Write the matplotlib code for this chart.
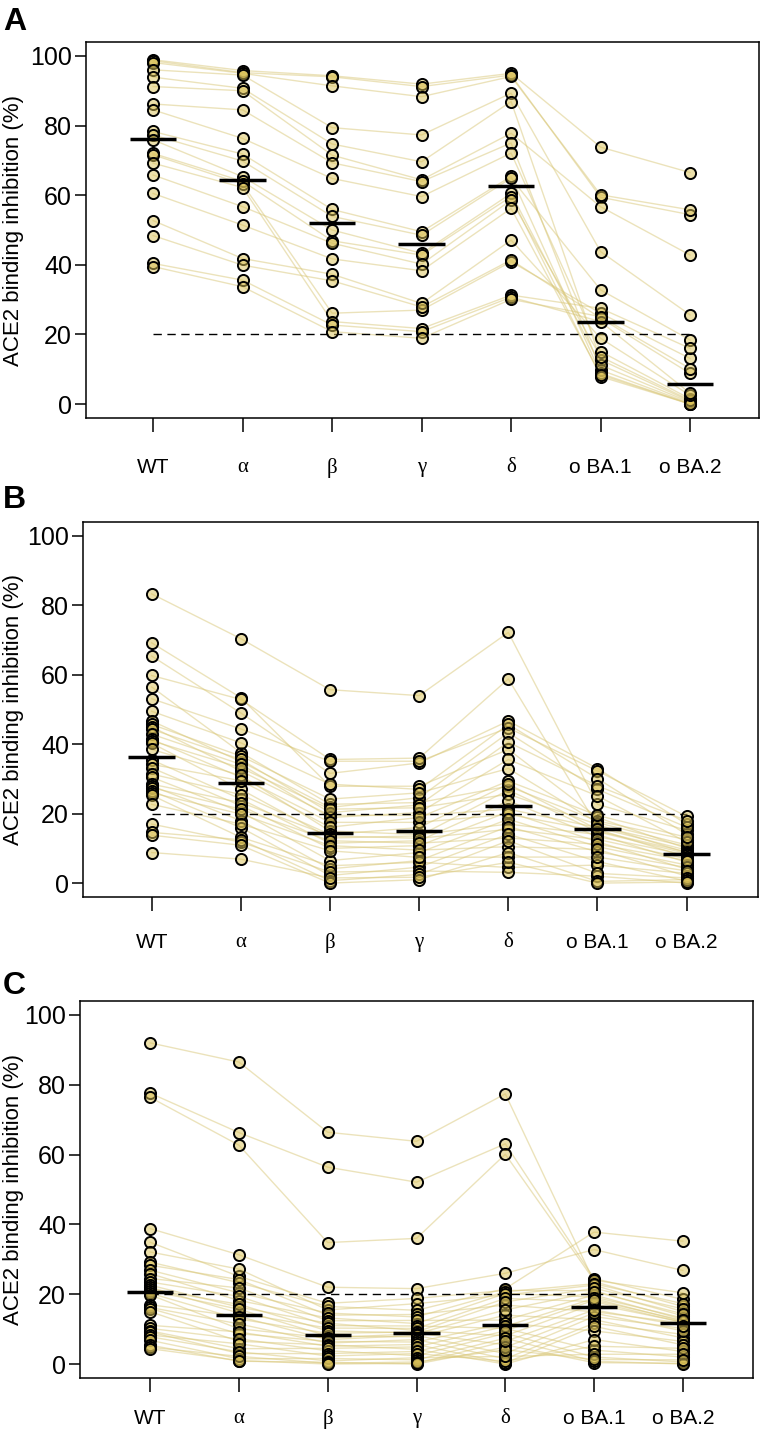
import numpy as np
import matplotlib
matplotlib.use('Agg')
import matplotlib.pyplot as plt

plt.rcParams['font.family'] = ['Liberation Sans', 'DejaVu Sans']

variants = ['WT', 'α', 'β', 'γ', 'δ', 'ο BA.1', 'ο BA.2']
threshold = 20

# one row per subject: WT, alpha, beta, gamma, delta, BA.1, BA.2
panel_a = [
    [98.9, 95.8, 94.3, 91.9, 95.0, 73.8, 66.5],
    [98.6, 95.2, 94.0, 91.2, 94.5, 59.4, 54.4],
    [98.1, 95.0, 91.4, 88.3, 94.1, 60.1, 55.8],
    [96.0, 94.5, 79.4, 77.3, 89.3, 43.8, 25.6],
    [93.9, 90.7, 74.7, 69.6, 86.9, 12.7, 0.8],
    [91.2, 90.0, 71.5, 64.4, 77.8, 56.7, 42.8],
    [86.2, 84.5, 69.3, 63.9, 75.0, 9.8, 0.2],
    [84.5, 76.3, 64.8, 59.6, 72.1, 15.1, 1.5],
    [78.3, 71.8, 55.9, 49.5, 65.4, 8.8, 0.0],
    [77.3, 69.8, 53.9, 48.5, 64.9, 32.8, 18.4],
    [75.9, 65.3, 50.0, 43.3, 60.5, 11.2, 0.5],
    [72.0, 64.0, 46.9, 42.8, 59.6, 7.9, 0.0],
    [71.6, 63.2, 26.1, 27.0, 40.9, 26.1, 13.1],
    [69.2, 62.2, 23.7, 21.7, 31.3, 27.5, 16.0],
    [65.8, 56.7, 46.2, 40.2, 58.6, 13.6, 1.1],
    [60.5, 51.4, 41.7, 38.3, 56.2, 8.4, 0.0],
    [52.7, 41.8, 37.3, 28.9, 47.1, 18.9, 2.5],
    [48.4, 39.9, 35.4, 27.9, 41.4, 24.7, 8.8],
    [40.4, 35.6, 22.7, 20.8, 30.7, 23.7, 3.1],
    [39.5, 33.7, 20.8, 18.9, 30.1, 25.1, 10.2],
]
medians_a = [76.0, 64.3, 52.0, 46.0, 62.6, 23.7, 5.7]

panel_b = [
    [83.3, 70.4, 55.7, 54.0, 72.2, 22.7, 15.2],
    [69.2, 53.4, 27.9, 27.9, 38.5, 18.9, 10.0],
    [65.4, 49.0, 31.6, 34.6, 46.7, 33.0, 17.0],
    [59.8, 52.9, 35.6, 36.0, 58.8, 16.4, 10.5],
    [56.5, 37.6, 22.7, 23.2, 27.9, 17.9, 12.5],
    [53.1, 44.4, 35.1, 35.1, 44.7, 32.3, 19.2],
    [49.5, 40.4, 28.5, 27.0, 45.7, 30.1, 14.0],
    [46.7, 35.0, 21.8, 24.6, 43.3, 27.0, 16.1],
    [45.7, 36.6, 24.2, 26.0, 33.0, 17.4, 11.0],
    [45.0, 32.3, 19.5, 19.5, 21.3, 16.0, 9.5],
    [44.3, 35.6, 20.3, 22.5, 40.6, 28.0, 18.0],
    [42.9, 34.2, 18.9, 20.3, 35.6, 25.1, 11.8],
    [41.4, 30.5, 17.5, 17.5, 19.8, 15.0, 9.0],
    [41.0, 33.2, 21.3, 21.7, 25.6, 16.9, 8.7],
    [40.3, 27.0, 13.0, 13.6, 26.8, 14.8, 8.5],
    [38.5, 31.0, 15.0, 14.0, 17.0, 14.0, 6.0],
    [35.5, 24.2, 11.5, 12.2, 23.7, 13.4, 8.1],
    [34.2, 29.5, 16.1, 18.9, 29.4, 19.5, 13.2],
    [33.2, 22.3, 10.0, 10.8, 20.5, 11.9, 4.0],
    [31.4, 25.5, 14.0, 16.0, 28.5, 15.5, 7.5],
    [30.5, 20.5, 6.5, 8.8, 18.4, 10.5, 5.2],
    [28.5, 23.2, 13.6, 12.9, 15.5, 12.6, 7.0],
    [28.0, 18.0, 4.1, 6.5, 16.3, 9.0, 4.5],
    [27.5, 21.3, 12.2, 11.5, 13.0, 11.2, 6.5],
    [26.6, 16.0, 2.2, 4.6, 14.1, 6.2, 0.6],
    [26.0, 19.9, 10.8, 9.5, 10.5, 9.7, 2.0],
    [25.3, 13.2, 5.0, 6.0, 4.5, 5.2, 2.8],
    [22.7, 17.0, 9.3, 7.4, 7.5, 7.5, 3.5],
    [17.0, 11.8, 3.2, 3.5, 3.1, 2.0, 0.0],
    [14.6, 12.5, 0.7, 2.5, 12.2, 2.8, 1.5],
    [13.8, 10.9, 0.0, 1.0, 8.8, 0.5, 1.0],
    [8.8, 6.9, 1.5, 1.7, 6.0, 0.0, 0.3],
]
medians_b = [36.3, 28.7, 14.3, 15.0, 22.2, 15.7, 8.3]

panel_c = [
    [92.0, 86.5, 66.4, 63.8, 77.4, 23.6, 16.5],
    [77.6, 66.3, 56.4, 52.1, 63.1, 24.5, 18.5],
    [76.4, 62.7, 34.8, 36.0, 60.1, 24.0, 20.4],
    [38.8, 31.3, 22.0, 21.6, 26.0, 32.8, 26.8],
    [34.9, 25.1, 17.4, 18.8, 21.1, 21.0, 13.8],
    [32.1, 27.2, 15.5, 17.3, 19.8, 22.6, 15.0],
    [29.2, 23.3, 16.5, 15.4, 21.6, 37.8, 35.2],
    [28.3, 24.2, 14.0, 14.2, 16.9, 15.0, 11.7],
    [26.9, 20.4, 14.6, 13.5, 20.7, 23.0, 17.3],
    [25.9, 18.2, 13.2, 11.6, 20.2, 19.2, 13.2],
    [24.5, 21.8, 12.4, 12.5, 12.6, 19.8, 12.8],
    [23.5, 19.4, 11.0, 10.9, 10.2, 4.0, 2.0],
    [22.6, 16.3, 11.7, 9.6, 8.1, 17.2, 12.0],
    [22.0, 14.6, 10.3, 10.2, 18.8, 17.9, 11.9],
    [21.5, 17.1, 9.5, 8.9, 5.5, 0.4, 0.2],
    [21.0, 15.7, 8.0, 7.8, 14.0, 12.7, 7.5],
    [20.3, 12.9, 8.8, 9.2, 17.8, 21.7, 15.8],
    [19.8, 10.1, 7.5, 8.7, 15.5, 20.7, 14.4],
    [17.0, 13.6, 7.0, 8.2, 3.0, 13.6, 10.2],
    [16.2, 11.5, 6.0, 7.0, 1.5, 11.7, 8.5],
    [15.9, 8.7, 6.5, 6.3, 11.7, 9.5, 6.5],
    [15.0, 6.5, 5.5, 4.2, 0.0, 7.0, 3.6],
    [11.1, 9.2, 5.1, 5.6, 0.3, 10.8, 5.5],
    [10.2, 7.2, 3.8, 2.4, 8.8, 2.0, 0.6],
    [9.5, 4.4, 4.5, 4.9, 10.8, 18.8, 12.2],
    [9.2, 3.0, 3.0, 3.6, 9.5, 18.3, 12.5],
    [8.3, 5.8, 2.3, 3.0, 0.8, 5.1, 4.5],
    [7.8, 3.5, 0.9, 1.8, 2.2, 2.8, 2.8],
    [6.8, 1.5, 1.6, 1.2, 7.4, 0.8, 0.0],
    [5.4, 0.8, 0.5, 0.0, 4.8, 14.6, 9.5],
    [4.8, 2.2, 0.2, 0.6, 4.1, 1.3, 1.2],
    [4.4, 1.0, 0.0, 0.2, 6.5, 15.5, 11.0],
]
medians_c = [20.7, 14.1, 8.4, 8.8, 11.2, 16.4, 11.8]

line_color = (0.85, 0.78, 0.47, 0.5)
dot_color = (0.86, 0.76, 0.35, 0.5)

W, H = 760, 1433
fig = plt.figure(figsize=(W / 100, H / 100), dpi=100)

# panel boxes in pixels: left, top, right, bottom
panels = [
    ('A', panel_a, medians_a, (86, 42, 759, 418), (-0.75, 6.77), 30, 19),
    ('B', panel_b, medians_b, (83, 522, 758, 897), (-0.77, 6.80), 508, 16),
    ('C', panel_c, medians_c, (80, 1001, 753, 1378), (-0.79, 6.79), 994, 12),
]

x = np.arange(len(variants))

for letter, rows, medians, box, xlim, letter_y, xpad in panels:
    left, top, right, bottom = box
    ax = fig.add_axes([left / W, 1 - bottom / H, (right - left) / W, (bottom - top) / H])

    for row in rows:
        ax.plot(x, row, color=line_color, linewidth=1.0, zorder=1)
    ax.plot([0, 6], [threshold, threshold], color='black', linewidth=1.0,
            dashes=(6, 4), zorder=2)
    for row in rows:
        ax.plot(x, row, linestyle='none', marker='o', markersize=8,
                markerfacecolor=dot_color, markeredgecolor='black',
                markeredgewidth=1.4, zorder=3)
    for xi, m in zip(x, medians):
        ax.plot([xi - 0.26, xi + 0.26], [m, m], color='black',
                linewidth=2.5, solid_capstyle='butt', zorder=4)

    ax.set_xlim(*xlim)
    ax.set_ylim(-4, 104)
    ax.set_yticks([0, 20, 40, 60, 80, 100])
    ax.set_xticks(x)
    ax.set_xticklabels(variants)
    for lab, name in zip(ax.get_xticklabels(), variants):
        if len(name) == 1:
            lab.set_fontfamily('Liberation Serif')
            lab.set_fontsize(16)
    ax.tick_params(axis='x', length=10, width=1.1, pad=xpad, labelsize=15)
    ax.tick_params(axis='y', length=8, width=1.1, pad=2, labelsize=18)
    for s in ax.spines.values():
        s.set_linewidth(1.1)

    fig.text(14 / W, 1 - ((top + bottom) / 2) / H, 'ACE2 binding inhibition (%)',
             rotation=90, ha='center', va='center', fontsize=16)
    fig.text(3 / W, 1 - letter_y / H, letter, fontsize=23, fontweight='bold',
             ha='left', va='baseline')

fig.savefig('out.png', dpi=100)
